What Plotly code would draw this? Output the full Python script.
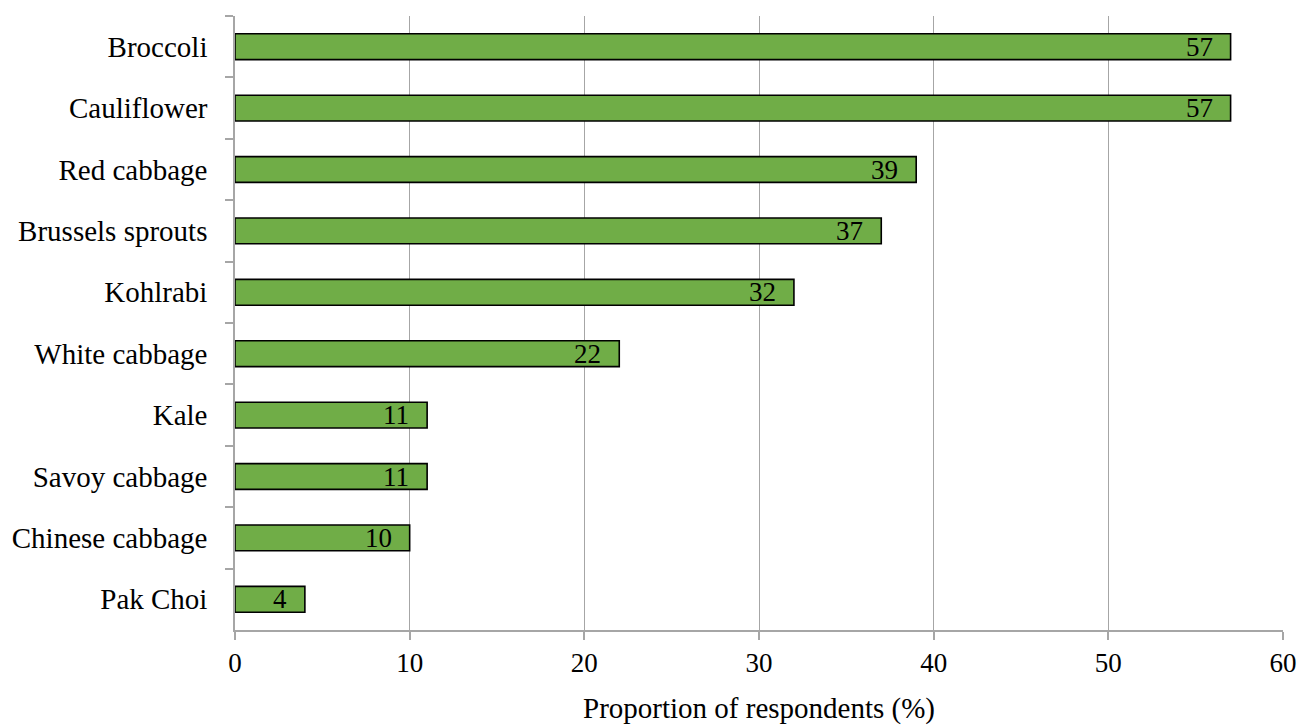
import plotly.graph_objects as go

# Brassica vegetables and share of respondents (%)
vegetables = ["Broccoli", "Cauliflower", "Red cabbage", "Brussels sprouts", "Kohlrabi",
              "White cabbage", "Kale", "Savoy cabbage", "Chinese cabbage", "Pak Choi"]
shares = [57, 57, 39, 37, 32, 22, 11, 11, 10, 4]
x_ticks = [0, 10, 20, 30, 40, 50, 60]

FONT = "Liberation Serif"
GRID = "#A6A6A6"

fig = go.Figure()
fig.add_trace(go.Bar(
    y=vegetables,
    x=shares,
    orientation="h",
    width=0.42,
    marker=dict(color="#70AD47", line=dict(color="black", width=1.6)),
    hoverinfo="x+y",
))

# value labels sitting just inside the end of each bar
for veg, val in zip(vegetables, shares):
    fig.add_annotation(
        x=val, y=veg, text=str(val), showarrow=False,
        xanchor="right", yanchor="middle", xshift=-16, yshift=0,
        font=dict(family=FONT, size=27, color="black"),
    )

fig.update_layout(
    width=1299, height=725,
    margin=dict(l=235, r=16, t=16, b=95, autoexpand=False),
    paper_bgcolor="white", plot_bgcolor="white",
    showlegend=False,
    font=dict(family=FONT, size=26, color="black"),
    xaxis=dict(
        range=[0, 60], tickvals=x_ticks, showgrid=True, gridcolor=GRID, gridwidth=1,
        zeroline=False, showline=True, linecolor=GRID, linewidth=1.5,
        ticks="outside", ticklen=8, tickcolor=GRID, tickwidth=1.5, automargin=False,
        tickfont=dict(family=FONT, size=27, color="black"),
        title=dict(text="Proportion of respondents (%)", standoff=22,
                   font=dict(family=FONT, size=29, color="black")),
    ),
    yaxis=dict(
        categoryorder="array", categoryarray=vegetables, autorange="reversed",
        showgrid=False, zeroline=False, showline=True, linecolor=GRID, linewidth=1.5,
        ticks="outside", tickson="boundaries", ticklen=8, tickcolor=GRID, tickwidth=1.5,
        ticklabelstandoff=20, automargin=False,
        tickfont=dict(family=FONT, size=29, color="black"),
    ),
)

fig.write_html("out.html")
